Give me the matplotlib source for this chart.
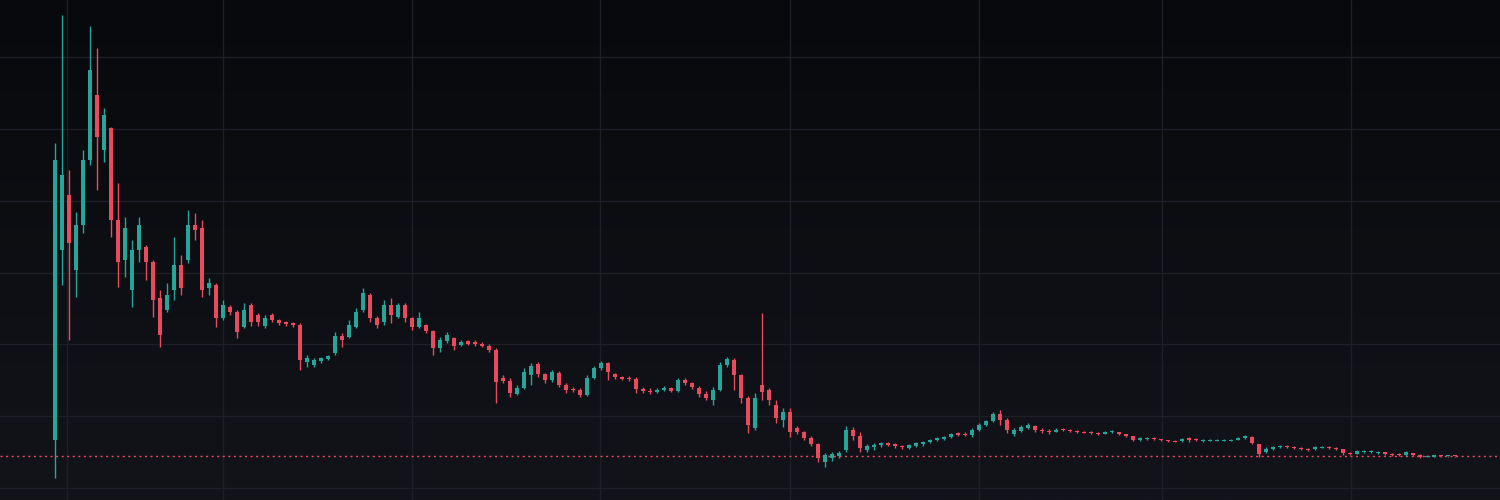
import numpy as np
import matplotlib
matplotlib.use("Agg")
import matplotlib.pyplot as plt
from matplotlib.colors import LinearSegmentedColormap

# candle values (price units)
opens = [60, 250, 305, 230, 275, 340, 405, 350, 372, 280, 240, 210, 250, 253, 238, 202, 190, 210, 235, 240,
         275, 272, 212, 215, 182, 193, 188, 173, 195, 185, 174, 185, 180, 178, 177, 175, 138, 135, 139, 141,
         147, 164, 163, 173, 190, 205, 182, 178, 195, 183, 195, 182, 173, 175, 169, 152, 159, 162, 155, 159,
         158, 156, 154, 150, 122, 119, 106, 112, 125, 136, 126, 120, 127, 115, 111, 110, 105, 122, 132, 137,
         126, 123, 122, 121, 111, 109, 108, 110, 112, 109, 120, 117, 112, 106, 100, 110, 135, 140, 125, 102,
         72, 115, 110, 95, 80, 88, 72, 68, 62, 56, 38, 42, 44, 50, 70, 64, 50, 53, 55, 57,
         56, 54, 52, 54, 56, 58, 60, 61, 63, 67, 66, 65, 70, 75, 79, 86, 80, 66, 69, 72,
         74, 70, 69, 68, 71, 70, 69, 68, 68, 67, 66, 68, 68, 66, 64, 60, 61, 62, 61, 60,
         59, 59, 62, 61, 59, 59, 59, 59, 59, 60, 62, 63, 56, 48, 51, 53, 54, 53, 52, 51,
         51, 52, 53, 52, 51, 47, 46, 48, 48, 47, 48, 46, 46, 45, 47, 45, 43, 43.5, 44, 43.8,
         44]
highs = [357, 485, 330, 288, 350, 474, 452, 392, 373, 317, 283, 260, 283, 255, 240, 210, 217, 263, 245, 290,
         287, 280, 222, 217, 200, 195, 190, 197, 197, 187, 185, 187, 181, 179, 178, 177, 145, 142, 143, 145,
         168, 167, 180, 192, 212, 207, 184, 200, 202, 197, 197, 183, 188, 176, 170, 163, 168, 163, 160, 160,
         160, 158, 156, 152, 125, 122, 115, 132, 137, 138, 127, 130, 129, 117, 113, 112, 125, 134, 139, 138,
         127, 124, 124, 123, 113, 112, 112, 114, 113, 122, 122, 118, 114, 109, 113, 138, 143, 142, 126, 104,
         107, 187, 112, 100, 92, 92, 74, 69, 64, 57, 47, 48, 49, 74, 73, 68, 56, 57, 58, 58,
         57, 55, 56, 58, 59, 61, 63, 64, 67, 68, 68, 72, 77, 80, 88, 90, 82, 72, 75, 77,
         75, 72, 71, 72, 72, 71, 70, 69, 69, 68, 69, 70, 68, 66, 64, 63, 63, 63, 61, 60,
         60, 62, 63, 62, 61, 61, 61, 61, 61, 63, 65, 64, 56, 53, 54, 55, 55, 54, 53, 52,
         54, 54, 54, 53, 51, 48, 50, 50, 50, 49, 48, 47, 47, 49, 47, 46, 45, 44.5, 44.5, 44.2,
         44.5]
lows = [22, 215, 160, 203, 267, 335, 310, 338, 263, 213, 223, 193, 238, 220, 183, 153, 188, 200, 205, 237,
        260, 203, 205, 173, 180, 185, 162, 172, 174, 174, 172, 178, 175, 174, 173, 130, 133, 133, 137, 140,
        145, 153, 162, 172, 188, 178, 172, 175, 177, 182, 178, 170, 172, 167, 145, 148, 157, 150, 154, 155,
        154, 153, 148, 97, 117, 103, 105, 111, 115, 123, 117, 118, 113, 107, 108, 103, 104, 121, 130, 120,
        121, 120, 119, 107, 107, 106, 107, 109, 108, 108, 115, 111, 103, 100, 95, 109, 133, 110, 97, 67,
        70, 100, 95, 77, 73, 63, 66, 60, 54, 38, 33, 39, 42, 48, 60, 48, 48, 50, 53, 54,
        52, 51, 51, 53, 54, 57, 59, 60, 62, 64, 64, 63, 69, 74, 78, 75, 67, 64, 68, 71,
        68, 67, 66, 68, 69, 68, 67, 67, 66, 65, 66, 67, 65, 63, 59, 59, 60, 60, 59, 58,
        58, 58, 58, 59, 58, 59, 59, 59, 59, 60, 61, 56, 43, 47, 50, 52, 52, 51, 50, 49,
        50, 52, 51, 50, 45, 45, 46, 47, 47, 46, 45, 44, 44, 44, 44, 42, 43, 43, 43.5, 43.5,
        43.5]
closes = [340, 325, 257, 275, 340, 430, 363, 385, 280, 238, 272, 250, 275, 238, 200, 165, 205, 235, 212, 275,
          270, 210, 217, 182, 195, 188, 168, 190, 178, 178, 182, 180, 177, 176, 175, 140, 142, 140, 142, 144,
          164, 160, 175, 188, 207, 182, 175, 195, 185, 195, 182, 173, 182, 169, 152, 160, 165, 154, 158, 156,
          156, 154, 150, 118, 119, 107, 112, 128, 134, 126, 120, 128, 115, 110, 110, 105, 122, 132, 137, 128,
          123, 121, 121, 111, 109, 108, 110, 112, 109, 120, 117, 113, 106, 102, 110, 135, 141, 125, 102, 75,
          102, 108, 100, 82, 88, 68, 68, 62, 56, 42, 45, 46, 47, 70, 64, 52, 54, 55, 57, 55,
          54, 53, 55, 57, 58, 60, 62, 63, 66, 65, 65, 70, 75, 79, 86, 80, 70, 70, 73, 75,
          70, 69, 68, 70, 70, 69, 68, 67, 67, 66, 68, 69, 66, 64, 60, 62, 62, 61, 60, 59,
          58, 61, 60, 60, 60, 60, 60, 60, 60, 62, 64, 57, 46, 51, 53, 54, 53, 52, 51, 50,
          53, 53, 52, 51, 47, 46, 49, 49, 49, 48, 46, 45, 45, 48, 45, 43, 44, 44, 43.7, 44,
          43.8]

# month grid positions (candle index)
month_lines = [1.7, 24.0, 51.0, 77.9, 105.0, 132.0, 158.1, 185.1]

up_color = '#26a69a'
down_color = '#ea4a5e'
bg_top = '#08090c'
bg_bottom = '#12141a'

o = np.array(opens, dtype=float)
h = np.array(highs, dtype=float)
l = np.array(lows, dtype=float)
c = np.array(closes, dtype=float)
x = np.arange(len(c))
colors = np.where(c >= o, up_color, down_color)

xmin, xmax = -7.86, 206.43
ymin, ymax = 0, 500

fig = plt.figure(figsize=(15, 5), dpi=100, facecolor=bg_bottom)
ax = fig.add_axes([0, 0, 1, 1])

# soft vertical background gradient
cmap = LinearSegmentedColormap.from_list('bg', [bg_bottom, bg_top])
grad = np.linspace(0, 1, 256).reshape(-1, 1)
ax.imshow(grad, cmap=cmap, aspect='auto', origin='lower',
          extent=[xmin, xmax, ymin, ymax], zorder=0)

ax.vlines(x, l, h, colors=colors, linewidth=1.0, zorder=3)
body = np.maximum(np.abs(c - o), 1.3)
ax.bar(x, body, bottom=np.minimum(o, c), width=0.48, color=colors, linewidth=0, zorder=4)

# last price line
ax.axhline(c[-1], color=down_color, linestyle=(0, (1.5, 2.5)), linewidth=1.0, zorder=2)

ax.set_xlim(xmin, xmax)
ax.set_ylim(ymin, ymax)
ax.set_xticks(month_lines)
ax.set_yticks(np.arange(12, 500, 71.8))
ax.grid(True, color='#1d1f26', linewidth=1.0, zorder=1)
ax.tick_params(length=0, labelbottom=False, labelleft=False)
for s in ax.spines.values():
    s.set_visible(False)

fig.savefig('out.png', dpi=100, facecolor=bg_bottom)
